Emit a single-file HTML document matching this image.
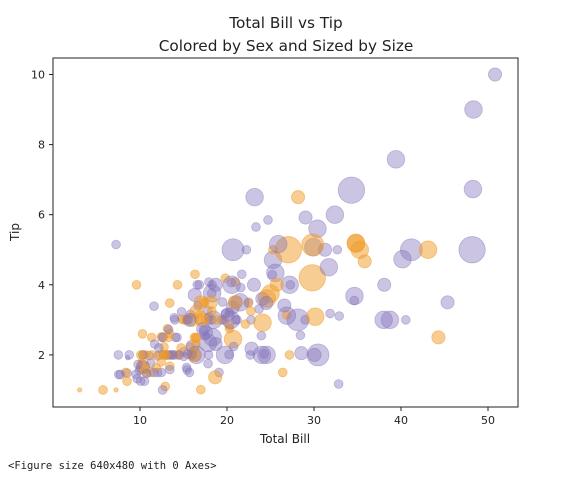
<!DOCTYPE html>
<html><head><meta charset="utf-8"><style>
body{margin:0;background:#fff;width:563px;height:478px;overflow:hidden;font-family:"DejaVu Sans","Liberation Sans",sans-serif;}
svg text{font-family:"DejaVu Sans","Liberation Sans",sans-serif;fill:#222;}
</style></head><body>
<svg id="chart" width="563" height="478">
<text x="286" y="28" text-anchor="middle" font-size="15.3">Total Bill vs Tip</text>
<text x="286" y="51" text-anchor="middle" font-size="15.3">Colored by Sex and Sized by Size</text>
<g id="marks"></g>
<rect x="53" y="58" width="465" height="349" fill="none" stroke="#222" stroke-width="1"/>
<g id="axes"></g>
<text x="285" y="443" text-anchor="middle" font-size="12">Total Bill</text>
<text x="19" y="232" text-anchor="middle" font-size="12" transform="rotate(-90 19 232)">Tip</text>
<text x="8" y="469" font-size="10.5" style="font-family:'DejaVu Sans Mono','Liberation Mono',monospace">&lt;Figure size 640x480 with 0 Axes&gt;</text>
</svg>
<script>
const totalBill=[16.99,10.34,21.01,23.68,24.59,25.29,8.77,26.88,15.04,14.78,
10.27,35.26,15.42,18.43,14.83,21.58,10.33,16.29,16.97,20.65,
17.92,20.29,15.77,39.42,19.82,17.81,13.37,12.69,21.7,19.65,
9.55,18.35,15.06,20.69,17.78,24.06,16.31,16.93,18.69,31.27,
16.04,17.46,13.94,9.68,30.4,18.29,22.23,32.4,28.55,18.04,
12.54,10.29,34.81,9.94,25.56,19.49,38.01,26.41,11.24,48.27,
20.29,13.81,11.02,18.29,17.59,20.08,16.45,3.07,20.23,15.01,
12.02,17.07,26.86,25.28,14.73,10.51,17.92,27.2,22.76,17.29,
19.44,16.66,10.07,32.68,15.98,34.83,13.03,18.28,24.71,21.16,
28.97,22.49,5.75,16.32,22.75,40.17,27.28,12.03,21.01,12.46,
11.35,15.38,44.3,22.42,20.92,15.36,20.49,25.21,18.24,14.31,
14.0,7.25,38.07,23.95,25.71,17.31,29.93,10.65,12.43,24.08,
11.69,13.42,14.26,15.95,12.48,29.8,8.52,14.52,11.38,22.82,
19.08,20.27,11.17,12.26,18.26,8.51,10.33,14.15,16.0,13.16,
17.47,34.3,41.19,27.05,16.43,8.35,18.64,11.87,9.78,7.51,
14.07,13.13,17.26,24.55,19.77,29.85,48.17,25.0,13.39,16.49,
21.5,12.66,16.21,13.81,17.51,24.52,20.76,31.71,10.59,10.63,
50.81,15.81,7.25,31.85,16.82,32.9,17.89,14.48,9.6,34.63,
34.65,23.33,45.35,23.17,40.55,20.69,20.9,30.46,18.15,23.1,
15.69,19.81,28.44,15.48,16.58,7.56,10.34,43.11,13.0,13.51,
18.71,12.74,13.0,16.4,20.53,16.47,26.59,38.73,24.27,12.76,
30.06,25.89,48.33,13.27,28.17,12.9,28.15,11.59,7.74,30.14,
12.16,13.42,8.58,15.98,13.42,16.27,10.09,20.45,13.28,22.12,
24.01,15.69,11.61,10.77,15.53,10.07,12.6,32.83,35.83,29.03,
27.18,22.67,17.82,18.78];
const tips=[1.01,1.66,3.5,3.31,3.61,4.71,2.0,3.12,1.96,3.23,
1.71,5.0,1.57,3.0,3.02,3.92,1.67,3.71,3.5,3.35,
4.08,2.75,2.23,7.58,3.18,2.34,2.0,2.0,4.3,3.0,
1.45,2.5,3.0,2.45,3.27,3.6,2.0,3.07,2.31,5.0,
2.24,2.54,3.06,1.32,5.6,3.0,5.0,6.0,2.05,3.0,
2.5,2.6,5.2,1.56,4.34,3.51,3.0,1.5,1.76,6.73,
3.21,2.0,1.98,3.76,2.64,3.15,2.47,1.0,2.01,2.09,
1.97,3.0,3.14,5.0,2.2,1.25,3.08,4.0,3.0,2.71,
3.0,3.4,1.83,5.0,2.03,5.17,2.0,4.0,5.85,3.0,
3.0,3.5,1.0,4.3,3.25,4.73,4.0,1.5,3.0,1.5,
2.5,3.0,2.5,3.48,4.08,1.64,4.06,4.29,3.76,4.0,
3.0,1.0,4.0,2.55,4.0,3.5,5.07,1.5,1.8,2.92,
2.31,1.68,2.5,2.0,2.52,4.2,1.48,2.0,2.0,2.18,
1.5,2.83,1.5,2.0,3.25,1.25,2.0,2.0,2.0,2.75,
3.5,6.7,5.0,5.0,2.3,1.5,1.36,1.63,1.73,2.0,
2.5,2.0,2.74,2.0,2.0,5.14,5.0,3.75,2.61,2.0,
3.5,2.5,2.0,2.0,3.0,3.48,2.24,4.5,1.61,2.0,
10.0,3.16,5.15,3.18,4.0,3.11,2.0,2.0,4.0,3.55,
3.68,5.65,3.5,6.5,3.0,5.0,3.5,2.0,3.5,4.0,
1.5,4.19,2.56,2.02,4.0,1.44,2.0,5.0,2.0,2.0,
4.0,2.01,2.0,2.5,4.0,3.23,3.41,3.0,2.03,2.23,
2.0,5.16,9.0,2.5,6.5,1.1,3.0,1.5,1.44,3.09,
2.2,3.48,1.92,3.0,1.58,2.5,2.0,3.0,2.72,2.88,
2.0,3.0,3.39,1.47,3.0,1.25,1.0,1.17,4.67,5.92,
2.0,2.0,1.75,3.0];
const sex=["F","M","M","M","F","M","M","M","M","M",
"M","F","M","M","F","M","F","M","F","M",
"M","F","F","M","M","M","M","M","M","F",
"M","M","F","F","M","M","M","F","M","M",
"M","M","M","M","M","M","M","M","M","M",
"M","F","F","M","M","M","M","F","M","M",
"M","M","M","M","M","M","F","F","M","M",
"M","F","F","F","F","M","M","M","M","M",
"M","M","F","M","M","F","M","M","M","M",
"M","M","F","F","F","M","M","M","M","M",
"F","F","F","F","F","M","M","M","M","F",
"M","F","M","M","F","F","M","F","F","F",
"M","F","M","M","F","F","M","F","F","M",
"M","F","F","F","F","F","F","F","M","F",
"F","M","M","F","F","F","F","F","M","M",
"M","M","M","M","M","F","M","F","F","M",
"M","M","F","M","F","M","M","M","F","F",
"M","M","M","M","M","M","M","M","F","M",
"M","M","M","M","M","M","F","M","F","M",
"M","F","M","M","M","M","M","F","F","M",
"M","F","F","F","M","F","M","M","M","F",
"M","M","M","F","F","F","M","M","M","F",
"M","F","M","F","M","F","F","M","M","F",
"M","M","M","M","M","M","M","M","F","M",
"F","M","M","F"];
const partySize=[2,3,3,2,4,4,2,4,2,2,
2,4,2,4,2,2,3,3,3,3,
2,2,2,4,2,4,2,2,2,2,
2,4,2,4,2,3,3,3,3,3,
3,2,2,2,4,2,2,4,3,2,
2,2,4,2,4,2,4,2,2,4,
2,2,2,4,3,3,2,1,2,2,
2,3,2,2,2,2,2,4,2,2,
2,2,1,2,2,4,2,2,2,2,
2,2,2,2,2,4,2,2,2,2,
2,2,3,2,2,2,2,2,2,2,
2,1,3,2,3,2,4,2,2,4,
2,2,2,2,2,6,2,2,2,3,
2,2,2,2,2,2,2,2,2,2,
2,6,5,6,2,2,3,2,2,2,
2,2,3,4,4,5,6,4,2,4,
4,2,3,2,2,3,2,4,2,2,
3,2,2,2,2,2,2,2,2,2,
4,2,3,4,2,5,3,5,3,3,
2,2,2,2,2,2,2,4,2,2,
3,2,2,2,4,3,3,4,2,2,
3,4,4,2,3,2,5,2,2,4,
2,2,1,3,2,2,2,4,2,2,
4,3,2,2,2,2,2,2,3,3,
2,2,2,2];
const xTicks=[10,20,30,40,50];
const yTicks=[2,4,6,8,10];
const NS="http://www.w3.org/2000/svg";
function xs(v){return 53+v*8.7;}
function ys(v){return 425-v*35.05;}
const marks=document.getElementById('marks');
const n=Math.min(totalBill.length,tips.length);
for(let i=0;i<n;i++){
  const c=document.createElementNS(NS,'circle');
  const female=sex[i]==='F';
  c.setAttribute('cx',xs(totalBill[i]));
  c.setAttribute('cy',ys(tips[i]));
  c.setAttribute('r',2.2*(partySize[i]||2));
  c.setAttribute('fill',female?'rgba(240,155,40,0.5)':'rgba(130,115,185,0.42)');
  c.setAttribute('stroke',female?'rgba(240,155,40,0.55)':'rgba(130,115,185,0.45)');
  c.setAttribute('stroke-width','0.8');
  
  
  marks.appendChild(c);
}
const axes=document.getElementById('axes');
xTicks.forEach(t=>{
  const l=document.createElementNS(NS,'line');
  l.setAttribute('x1',xs(t));l.setAttribute('x2',xs(t));l.setAttribute('y1',407);l.setAttribute('y2',411);l.setAttribute('stroke','#222');
  
  
  axes.appendChild(l);
  const tx=document.createElementNS(NS,'text');
  tx.setAttribute('x',xs(t));tx.setAttribute('y',424);tx.setAttribute('text-anchor','middle');tx.setAttribute('font-size','11');
  tx.textContent=t;
  
  
  axes.appendChild(tx);
});
yTicks.forEach(t=>{
  const l=document.createElementNS(NS,'line');
  l.setAttribute('x1',49);l.setAttribute('x2',53);l.setAttribute('y1',ys(t));l.setAttribute('y2',ys(t));l.setAttribute('stroke','#222');
  
  
  axes.appendChild(l);
  const tx=document.createElementNS(NS,'text');
  tx.setAttribute('x',45);tx.setAttribute('y',ys(t)+4);tx.setAttribute('text-anchor','end');tx.setAttribute('font-size','11');
  tx.textContent=t;
  
  
  axes.appendChild(tx);
});
</script>
</body></html>
